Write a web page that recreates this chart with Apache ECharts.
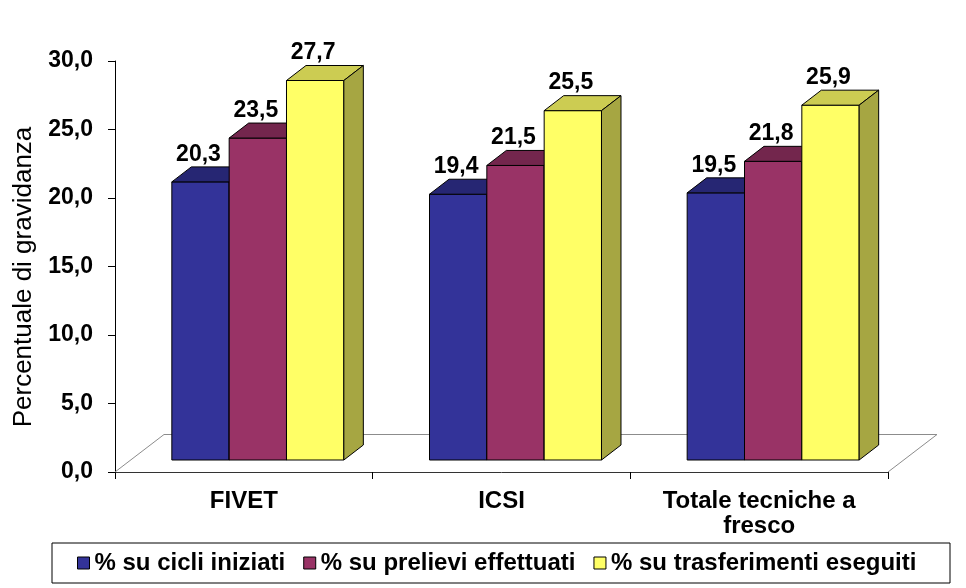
<!DOCTYPE html>
<html>
<head>
<meta charset="utf-8">
<script src="https://cdn.jsdelivr.net/npm/echarts@6/dist/echarts.min.js"></script>
<style>
html,body{margin:0;padding:0;background:#fff;}
#chart{width:966px;height:588px;}
</style>
</head>
<body>
<div id="chart"></div>
<script>
// ---- data ----
var categories = ['FIVET', 'ICSI', 'Totale tecniche a\nfresco'];
var seriesNames = ['% su cicli iniziati', '% su prelievi effettuati', '% su trasferimenti eseguiti'];
var cicliIniziati = [20.3, 19.4, 19.5];
var prelieviEffettuati = [23.5, 21.5, 21.8];
var trasferimentiEseguiti = [27.7, 25.5, 25.9];
var yTicks = { min: 0, max: 30, interval: 5 };

// ---- styles ----
var FONT = '"Liberation Sans", Arial, sans-serif';
var faceColors = [
  { front: '#333399', top: '#262673', side: '#1f1f5c' },
  { front: '#993366', top: '#73264d', side: '#5c1f3d' },
  { front: '#FFFF66', top: '#CCCC52', side: '#A6A642' }
];
var BAR_FRAC = 0.2225;   // bar width as fraction of band
var SHIFT_X = 14, SHIFT_Y = 12;   // front face shift into depth
var DEPTH_X = 19.5, DEPTH_Y = 15; // bar depth
var FLOOR_X = 49, FLOOR_Y = 37.5; // floor depth

function fmt(v) { return v.toFixed(1).replace('.', ','); }

function makeBarRender(idx) {
  var offset = idx - 1.5;
  var col = faceColors[idx];
  return function (params, api) {
    var c = api.value(0), v = api.value(1);
    var top = api.coord([c, v]);
    var base = api.coord([c, 0]);
    var band = api.size([1, 0])[0];
    var w = band * BAR_FRAC;
    var x0 = top[0] + offset * w + SHIFT_X;
    var yt = top[1] - SHIFT_Y;
    var yb = base[1] - SHIFT_Y;
    var stroke = { stroke: '#000', lineWidth: 1 };
    return {
      type: 'group',
      children: [
        { type: 'rect', shape: { x: x0, y: yt, width: w, height: yb - yt },
          style: Object.assign({ fill: col.front }, stroke) },
        { type: 'polygon', shape: { points: [[x0, yt], [x0 + w, yt], [x0 + w + DEPTH_X, yt - DEPTH_Y], [x0 + DEPTH_X, yt - DEPTH_Y]] },
          style: Object.assign({ fill: col.top }, stroke) },
        { type: 'polygon', shape: { points: [[x0 + w, yt], [x0 + w + DEPTH_X, yt - DEPTH_Y], [x0 + w + DEPTH_X, yb - DEPTH_Y], [x0 + w, yb]] },
          style: Object.assign({ fill: col.side }, stroke) },
        { type: 'text', style: { text: fmt(v), x: x0 + w / 2 - 2, y: yt - DEPTH_Y - 1,
            align: 'center', verticalAlign: 'bottom', fill: '#000',
            font: 'bold 23px ' + FONT } }
      ]
    };
  };
}

function floorRender(params, api) {
  var cs = params.coordSys;
  var L = cs.x, R = cs.x + cs.width, B = cs.y + cs.height;
  return {
    type: 'polyline',
    shape: { points: [[L, B], [L + FLOOR_X, B - FLOOR_Y], [R + FLOOR_X, B - FLOOR_Y], [R, B]] },
    style: { stroke: '#8c8c8c', lineWidth: 1, fill: null }
  };
}

function toData(arr) { return arr.map(function (v, i) { return [i, v]; }); }
var valueSets = [cicliIniziati, prelieviEffettuati, trasferimentiEseguiti];

var series = [{
  type: 'custom', name: 'floor', renderItem: floorRender, data: [[0, 0]], z: 1, silent: true
}];
valueSets.forEach(function (vals, i) {
  series.push({
    type: 'custom', name: seriesNames[i], renderItem: makeBarRender(i),
    data: toData(vals), z: 2 + i,
    itemStyle: { color: faceColors[i].front },
    encode: { x: 0, y: 1 }
  });
});

var chart = echarts.init(document.getElementById('chart'), null, { renderer: 'canvas' });
chart.setOption({
  animation: false,
  backgroundColor: '#fff',
  grid: { left: 115, right: 78, top: 61, bottom: 116 },
  xAxis: {
    type: 'category', data: categories,
    axisLine: { lineStyle: { color: '#333', width: 1 } },
    axisTick: { show: true, length: 7, lineStyle: { color: '#000' } },
    axisLabel: { interval: 0, margin: 17, color: '#000', fontFamily: FONT, fontWeight: 'bold', fontSize: 24, lineHeight: 25 }
  },
  yAxis: {
    type: 'value', min: yTicks.min, max: yTicks.max, interval: yTicks.interval,
    splitLine: { show: false },
    axisLine: { show: true, lineStyle: { color: '#000', width: 1 } },
    axisTick: { show: true, length: 7, lineStyle: { color: '#000' } },
    axisLabel: { margin: 22, color: '#000', fontFamily: FONT, fontWeight: 'bold', fontSize: 23, formatter: fmt }
  },
  legend: {
    data: seriesNames, left: 77, top: 551, padding: 0, itemGap: 18,
    itemWidth: 12, itemHeight: 12, icon: 'rect',
    itemStyle: { borderColor: '#000', borderWidth: 1 },
    textStyle: { color: '#000', fontFamily: FONT, fontWeight: 'bold', fontSize: 24 }
  },
  graphic: [
    { type: 'rect', shape: { x: 52, y: 543, width: 898, height: 40 },
      style: { fill: null, stroke: '#000', lineWidth: 1 }, silent: true },
    { type: 'text', x: 24, y: 277, rotation: Math.PI / 2,
      style: { text: 'Percentuale di gravidanza', fill: '#000', font: '26px ' + FONT,
        align: 'center', verticalAlign: 'middle' } }
  ],
  series: series
});
</script>
</body>
</html>
